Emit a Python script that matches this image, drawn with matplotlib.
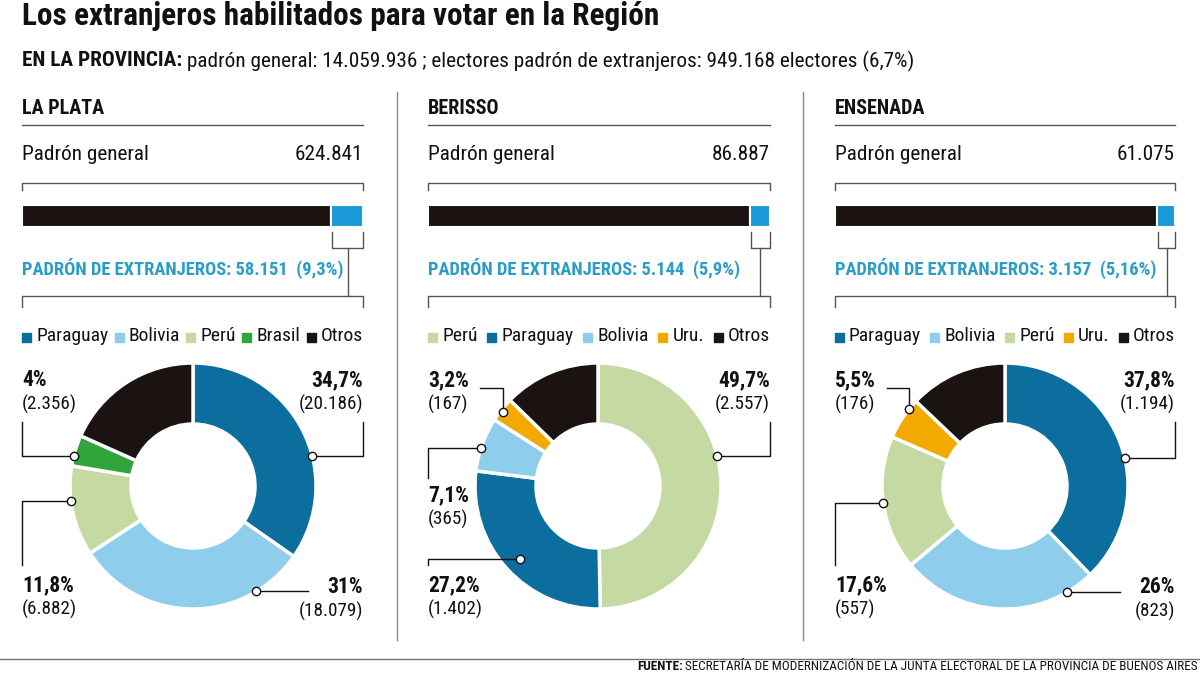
import matplotlib
matplotlib.use('Agg')
import matplotlib.pyplot as plt
from matplotlib.patches import Rectangle
import numpy as np

# %%
title = 'Los extranjeros habilitados para votar en la Región'
subtitle_bold = 'EN LA PROVINCIA:'
subtitle_rest = ' padrón general: 14.059.936 ; electores padrón de extranjeros: 949.168 electores (6,7%)'
source_bold = 'FUENTE:'
source_rest = ' SECRETARÍA DE MODERNIZACIÓN DE LA JUNTA ELECTORAL DE LA PROVINCIA DE BUENOS AIRES'

districts = ['LA PLATA', 'BERISSO', 'ENSENADA']
padron_general = [624841, 86887, 61075]
padron_extranjeros = [58151, 5144, 3157]
extranjeros_pct = ['9,3%', '5,9%', '5,16%']

la_plata_countries = ['Paraguay', 'Bolivia', 'Perú', 'Brasil', 'Otros']
la_plata_votes = [20186, 18079, 6882, 2356, 10648]
la_plata_pct = ['34,7%', '31%', '11,8%', '4%', None]

berisso_countries = ['Perú', 'Paraguay', 'Bolivia', 'Uru.', 'Otros']
berisso_votes = [2557, 1402, 365, 167, 653]
berisso_pct = ['49,7%', '27,2%', '7,1%', '3,2%', None]

ensenada_countries = ['Paraguay', 'Bolivia', 'Perú', 'Uru.', 'Otros']
ensenada_votes = [1194, 823, 557, 176, 407]
ensenada_pct = ['37,8%', '26%', '17,6%', '5,5%', None]

# %%
colors = {
    'Paraguay': '#0b6e9e',
    'Bolivia': '#8fcdec',
    'Perú': '#c5d9a2',
    'Brasil': '#2fa53b',
    'Uru.': '#f2a900',
    'Otros': '#1b1311',
}
bar_blue = '#1a9ad8'
teal = '#2b9dc6'
ink = '#111111'
grey = '#555555'

FONT = ['Liberation Sans Narrow', 'Roboto Condensed', 'DejaVu Sans']
plt.rcParams['font.family'] = FONT


def fmt(n):
    return f'{n:,}'.replace(',', '.')


# panel layout (pixels)
panels = [
    dict(x0=22, x1=363, cx=193,
         countries=la_plata_countries, votes=la_plata_votes, pct=la_plata_pct,
         # (angle of dot, radius fraction, side, leader kind)
         labels=[(14, 1.0, 'R', 'up'), (-59, 1.0, 'R', 'flat'),
                 (187, 1.0, 'L', 'down'), (166, 1.0, 'L', 'up'), None]),
    dict(x0=428, x1=770, cx=598,
         countries=berisso_countries, votes=berisso_votes, pct=berisso_pct,
         labels=[(14, 1.0, 'R', 'up'), (223, 0.87, 'L', 'down'),
                 (162, 1.0, 'L', 'mid'), (142, 0.98, 'L', 'top'), None]),
    dict(x0=835, x1=1175, cx=1005,
         countries=ensenada_countries, votes=ensenada_votes, pct=ensenada_pct,
         labels=[(13, 1.0, 'R', 'up'), (-59.5, 1.0, 'R', 'flat'),
                 (188, 1.0, 'L', 'down'), (141, 1.0, 'L', 'top'), None]),
]
cy = 486
r_out = 123
ring = 61

# %%
fig = plt.figure(figsize=(12, 6.75), dpi=100)
ax = fig.add_axes([0, 0, 1, 1])
ax.set_xlim(0, 1200)
ax.set_ylim(675, 0)
r = fig.canvas.get_renderer()


def text_w(txt):
    # width in data units (= pixels here)
    return txt.get_window_extent(renderer=r).width * 1200 / fig.bbox.width


ax.text(22, 16, title, fontsize=22.5, fontweight='bold', color=ink, va='center', ha='left')
t = ax.text(22, 61, subtitle_bold, fontsize=15.3, fontweight='bold', color=ink, va='center')
ax.text(22 + text_w(t), 61, subtitle_rest, fontsize=15.3, color=ink, va='center')

# separators
for sx in (397, 803):
    ax.plot([sx, sx], [92, 640], color='#888888', lw=1)

for i, p in enumerate(panels):
    x0, x1, cx = p['x0'], p['x1'], p['cx']
    ax.text(x0, 108, districts[i], fontsize=14.5, fontweight='bold', color=ink, va='center')
    ax.plot([x0, x1], [125, 125], color=grey, lw=1)
    ax.text(x0, 154, 'Padrón general', fontsize=15.3, color=ink, va='center')
    ax.text(x1, 154, fmt(padron_general[i]), fontsize=15.3, color=ink, va='center', ha='right')

    # top bracket
    ax.plot([x0, x0, x1, x1], [190, 183, 183, 190], color=grey, lw=1)

    # stacked bar
    scale = (x1 - x0) / padron_general[i]
    rest = padron_general[i] - padron_extranjeros[i]
    ax.barh(216, rest * scale, left=x0, height=22, color=colors['Otros'],
            edgecolor='white', linewidth=1.5)
    ax.barh(216, padron_extranjeros[i] * scale, left=x0 + rest * scale, height=22,
            color=bar_blue, edgecolor='white', linewidth=1.5)
    bl = x0 + rest * scale + 1
    mid = (bl + x1) / 2
    ax.plot([bl, bl, x1, x1], [232, 248, 248, 232], color=grey, lw=1)
    ax.plot([mid, mid], [248, 296], color=grey, lw=1)
    ax.plot([x0, x0, x1, x1], [307, 296, 296, 307], color=grey, lw=1)

    ax.text(x0, 268, f'PADRÓN DE EXTRANJEROS: {fmt(padron_extranjeros[i])}  ({extranjeros_pct[i]})',
            fontsize=13.3, fontweight='bold', color=teal, va='center')

    # justified legend
    items = [ax.text(0, 336, c, fontsize=14, color=ink, va='center') for c in p['countries']]
    sq = 9
    widths = [sq + 5 + text_w(tt) for tt in items]
    gap = ((x1 - x0) - sum(widths)) / (len(items) - 1)
    lx = x0
    for c, tt, w in zip(p['countries'], items, widths):
        ax.add_patch(Rectangle((lx, 336 - sq / 2 + 1), sq, sq, color=colors[c]))
        tt.set_x(lx + sq + 5)
        lx += w + gap

    # donut (y axis inverted: counterclock=True draws clockwise)
    ax.pie(p['votes'], colors=[colors[c] for c in p['countries']], center=(cx, cy),
           radius=r_out, startangle=-90, counterclock=True, frame=True,
           wedgeprops=dict(width=ring, edgecolor='white', linewidth=2.5))

    # labels with leader lines
    for j, lab in enumerate(p['labels']):
        if lab is None:
            continue
        ang, rf, side, kind = lab
        rr = r_out * rf
        dx = cx + rr * np.cos(np.radians(ang))
        dy = cy - rr * np.sin(np.radians(ang))
        if side == 'R':
            tx, ha = x1, 'right'
        else:
            tx, ha = x0, 'left'
        if kind == 'up':
            ty = 380
            ax.plot([dx, tx, tx], [dy, dy, 422], color=ink, lw=1, zorder=3)
        elif kind == 'top':
            ty = 380
            ax.plot([x0 + 52, dx, dx], [388, 388, dy], color=ink, lw=1, zorder=3)
        elif kind == 'flat':
            ty = 587
            ax.plot([dx, tx - 55], [dy, dy], color=ink, lw=1, zorder=3)
        elif kind == 'mid':
            ty = 495
            ax.plot([dx, tx, tx], [dy, dy, 478], color=ink, lw=1, zorder=3)
        else:
            ty = 585
            ax.plot([dx, tx, tx], [dy, dy, 565], color=ink, lw=1, zorder=3)
        ax.plot(dx, dy, 'o', ms=6, mfc='white', mec=ink, mew=1, zorder=4)
        ax.text(tx, ty, p['pct'][j], fontsize=15.5, fontweight='bold', color=ink, va='center', ha=ha)
        ax.text(tx, ty + 24, f'({fmt(p["votes"][j])})', fontsize=13.8, color=ink, va='center', ha=ha)

# footer
ax.plot([0, 1200], [659, 659], color='#777777', lw=1)
fs = ax.text(1198, 667, source_rest, fontsize=9.5, color=ink, va='center', ha='right')
ax.text(1198 - text_w(fs), 667, source_bold, fontsize=9.5,
        fontweight='bold', color=ink, va='center', ha='right')

ax.set_xlim(0, 1200)
ax.set_ylim(675, 0)
ax.set_aspect('auto')
ax.axis('off')

fig.savefig('out.png', dpi=100, facecolor='white')
